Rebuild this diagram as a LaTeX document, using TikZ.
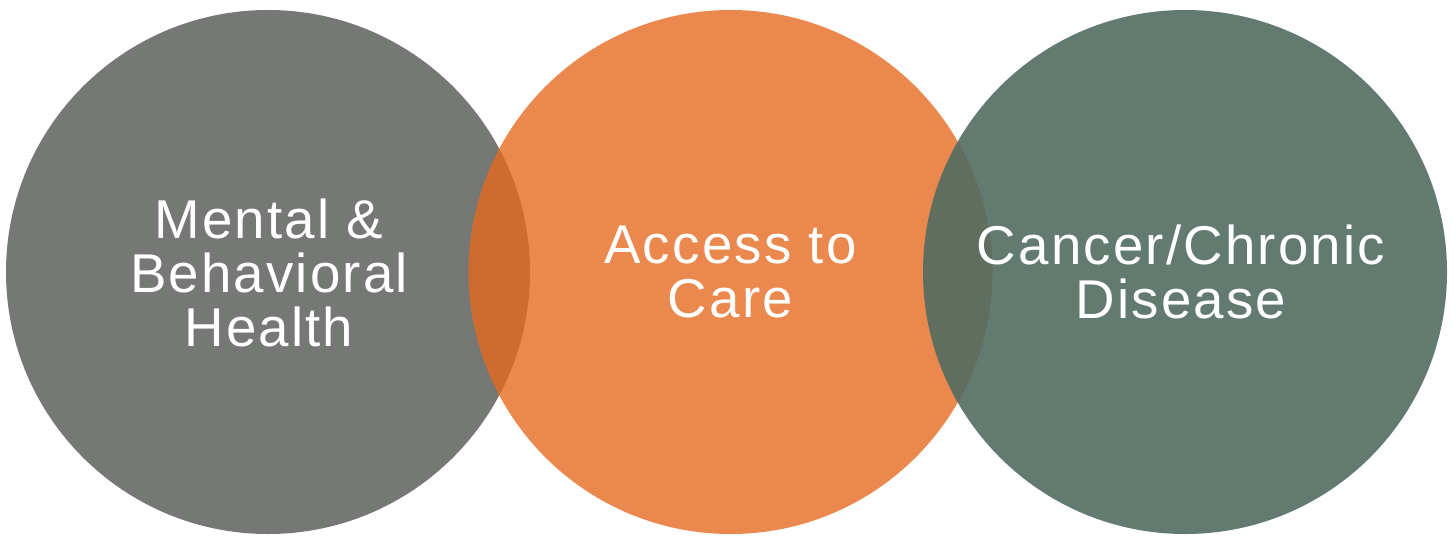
\documentclass[tikz,border=0pt]{standalone}
\usepackage{fontspec}
\setmainfont{Liberation Sans}[LetterSpace=4]
\definecolor{mhgray}{RGB}{118,120,118}
\definecolor{careorange}{RGB}{230,104,31}
\definecolor{chronicgreen}{RGB}{81,108,97}
\begin{document}
\begin{tikzpicture}[x=0.75pt,y=-0.75pt,
  every node/.style={font=\fontsize{41}{40.5}\selectfont,text=white,align=center},
  area/.style={circle,inner sep=0pt,minimum size=393pt}]
  \useasboundingbox (0,0) rectangle (1455,535);
  % the three focus areas
  \node[area,fill=mhgray] (mental) at (268,272) {};
  \node[area,fill=careorange,fill opacity=0.79] (access) at (730.5,272) {};
  \node[area,fill=chronicgreen,fill opacity=0.9] (chronic) at (1185,272) {};
  % titles
  \node (mentaltxt) at ([xshift=0.75pt,yshift=-1pt]mental.center) {Mental \&\\Behavioral\\Health};
  \node (accesstxt) at (access.center) {Access to\\Care};
  \node (chronictxt) at ([xshift=-3pt]chronic.center) {Cancer/Chronic\\Disease};
\end{tikzpicture}
\end{document}
